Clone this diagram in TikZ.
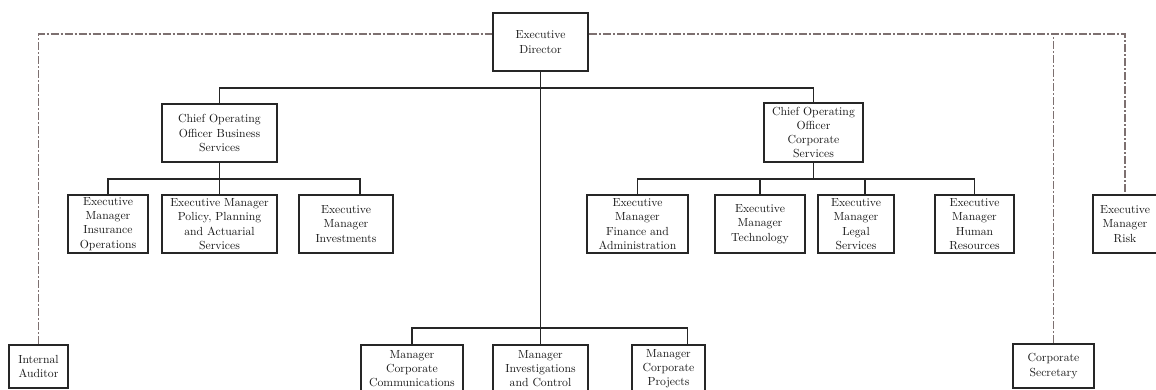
\documentclass[tikz,border=0pt]{standalone}
\definecolor{traitgris}{RGB}{125,112,112}
\begin{document}
\begin{tikzpicture}[x=0.3mm, y=-0.3mm,
    boite/.style={draw=black!85, line width=1.8pt, fill=white, align=center, inner sep=0pt,
        text=black!90, font=\fontsize{10}{12.2}\selectfont},
    taille/.style 2 args={minimum width=#1*0.3mm, minimum height=#2*0.3mm},
    lien/.style={draw=black!85, line width=1.2pt},
    pointille/.style={draw=traitgris, line width=1.2pt, dash pattern=on 2.4mm off 0.6mm on 0.6mm off 0.6mm}]
    \useasboundingbox (0, 0) rectangle (1156, 390);
    \clip (0, 0) rectangle (1156, 390);

    % Direction
    \node[boite, taille={95}{58}] (ed) at (540.5, 42) {Executive\\Director};
    \node[boite, taille={115}{58}] (coobs) at (219.5, 133) {Chief Operating\\Officer Business\\Services};
    \node[boite, taille={99}{59}] (coocs) at (813.5, 132.5) {Chief Operating\\Officer\\Corporate\\Services};

    % Managers executifs
    \node[boite, taille={80}{58}] (ins) at (108, 224) {Executive\\Manager\\Insurance\\Operations};
    \node[boite, taille={115}{58}] (pol) at (219.5, 224) {Executive Manager\\Policy, Planning\\and Actuarial\\Services};
    \node[boite, taille={94}{58}] (inv) at (346, 224) {Executive\\Manager\\Investments};
    \node[boite, taille={101}{58}] (fin) at (637.5, 224) {Executive\\Manager\\Finance and\\Administration};
    \node[boite, taille={90}{58}] (tech) at (760, 224) {Executive\\Manager\\Technology};
    \node[boite, taille={76}{58}] (legal) at (856, 224) {Executive\\Manager\\Legal\\Services};
    \node[boite, taille={79}{58}] (hr) at (974.5, 224) {Executive\\Manager\\Human\\Resources};
    \node[boite, taille={64}{58}] (risk) at (1125, 224) {Executive\\Manager\\Risk};

    % Managers
    \node[boite, taille={102}{47}] (comm) at (412, 368.5) {Manager\\Corporate\\Communications};
    \node[boite, taille={95}{47}] (invc) at (540.5, 368.5) {Manager\\Investigations\\and Control};
    \node[boite, taille={73}{47}] (proj) at (668.5, 368.5) {Manager\\Corporate\\Projects};
    \node[boite, taille={59}{43}] (ia) at (38.5, 366.5) {Internal\\Auditor};
    \node[boite, taille={81}{44}] (cs) at (1053.5, 366) {Corporate\\Secretary};

    % Niveaux des barres
    \coordinate (d0) at (540, 34);
    \coordinate (b1) at (540, 88);
    \coordinate (b2) at (540, 179);
    \coordinate (b3) at (540, 328);
    \coordinate (inv-n) at ([xshift=4.2mm]inv.north);
    \coordinate (legal-n) at ([xshift=2.7mm]legal.north);
    \coordinate (proj-n) at ([xshift=5.7mm]proj.north);

    % Liens hierarchiques
    \draw[lien] (ed.south) -- (invc.north);
    \draw[lien] (coobs.north) |- (b1) -| (coocs.north);
    \foreach \n in {ins.north, pol.north, inv-n}
        \draw[lien] (coobs.south) |- (\n |- b2) -- (\n);
    \foreach \n in {fin.north, tech.north, legal-n, hr.north}
        \draw[lien] (coocs.south) |- (\n |- b2) -- (\n);
    \draw[lien] (comm.north) |- (b3) -| (proj-n);

    % Liens fonctionnels
    \draw[pointille] (ia.north) |- (ed.west |- d0);
    \draw[pointille] (ed.east |- d0) -| (risk.north);
    \draw[pointille] (cs.north) -- (cs.north |- d0);
\end{tikzpicture}
\end{document}
